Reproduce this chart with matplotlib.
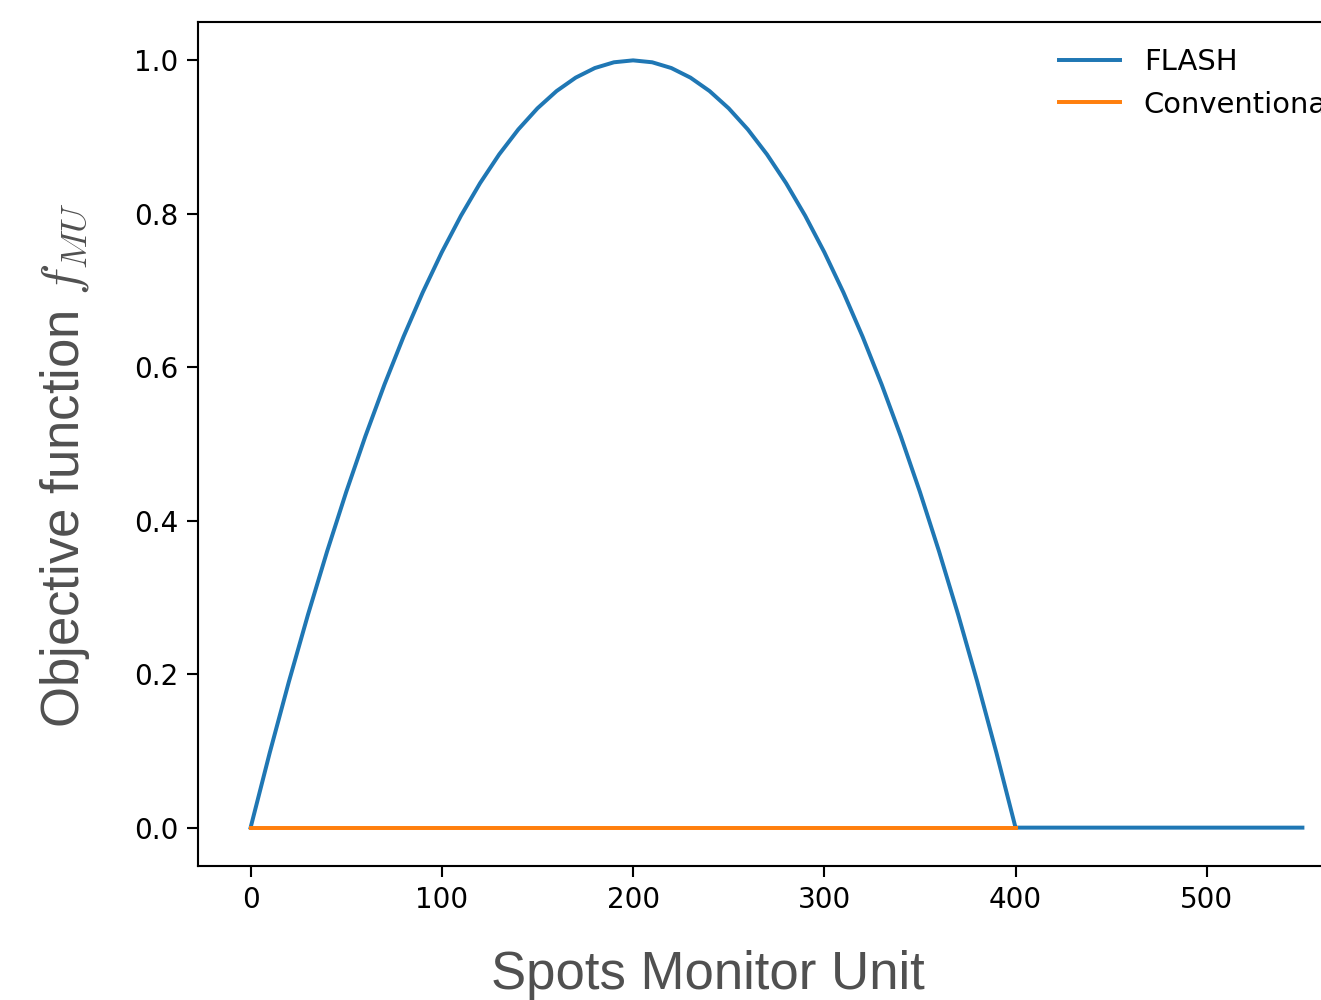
import matplotlib
matplotlib.use("Agg")
import matplotlib.pyplot as plt

# values
flash_x = [0, 10, 20, 30, 40, 50, 60, 70, 80, 90, 100,
           110, 120, 130, 140, 150, 160, 170, 180, 190, 200,
           210, 220, 230, 240, 250, 260, 270, 280, 290, 300,
           310, 320, 330, 340, 350, 360, 370, 380, 390, 400, 550]
flash_y = [0.0, 0.0975, 0.19, 0.2775, 0.36, 0.4375, 0.51, 0.5775, 0.64, 0.6975, 0.75,
           0.7975, 0.84, 0.8775, 0.91, 0.9375, 0.96, 0.9775, 0.99, 0.9975, 1.0,
           0.9975, 0.99, 0.9775, 0.96, 0.9375, 0.91, 0.8775, 0.84, 0.7975, 0.75,
           0.6975, 0.64, 0.5775, 0.51, 0.4375, 0.36, 0.2775, 0.19, 0.0975, 0.0, 0.0]

conv_x = [0, 400]
conv_y = [0.0, 0.0]

x_ticks = [0, 100, 200, 300, 400, 500]
y_ticks = [0.0, 0.2, 0.4, 0.6, 0.8, 1.0]

plt.rcParams["mathtext.fontset"] = "cm"

DPI = 190
fig = plt.figure(figsize=(1321 / DPI, 1000 / DPI), dpi=DPI)
# the right part of the axes runs past the picture edge, as in the reference
ax = fig.add_axes([198 / 1321, 134 / 1000, 1157 / 1321, 844 / 1000])

ax.plot(flash_x, flash_y, color="#1f77b4", lw=1.5, label="FLASH")
ax.plot(conv_x, conv_y, color="#ff7f0e", lw=1.5, label="Conventional")

ax.set_xlim(-27.5, 577.5)
ax.set_ylim(-0.05, 1.05)
ax.set_xticks(x_ticks)
ax.set_yticks(y_ticks)
ax.tick_params(labelsize=10.5, length=4, width=0.8)

ax.set_xlabel("Spots Monitor Unit", fontsize=20, color="#505050",
              family="Liberation Sans")
ax.set_ylabel(r"Objective function $f_{MU}$", fontsize=20, color="#505050",
              family="Liberation Sans", math_fontfamily="cm")
ax.xaxis.set_label_coords(0.441, -0.129)
ax.yaxis.set_label_coords(-0.115, 0.475)
ax.xaxis.label.set_verticalalignment("center")
ax.yaxis.label.set_verticalalignment("center")

ax.legend(loc="upper left", bbox_to_anchor=(0.722, 1.0), frameon=False,
          fontsize=11, handlelength=2.1)

fig.savefig("out.png", dpi=DPI)
